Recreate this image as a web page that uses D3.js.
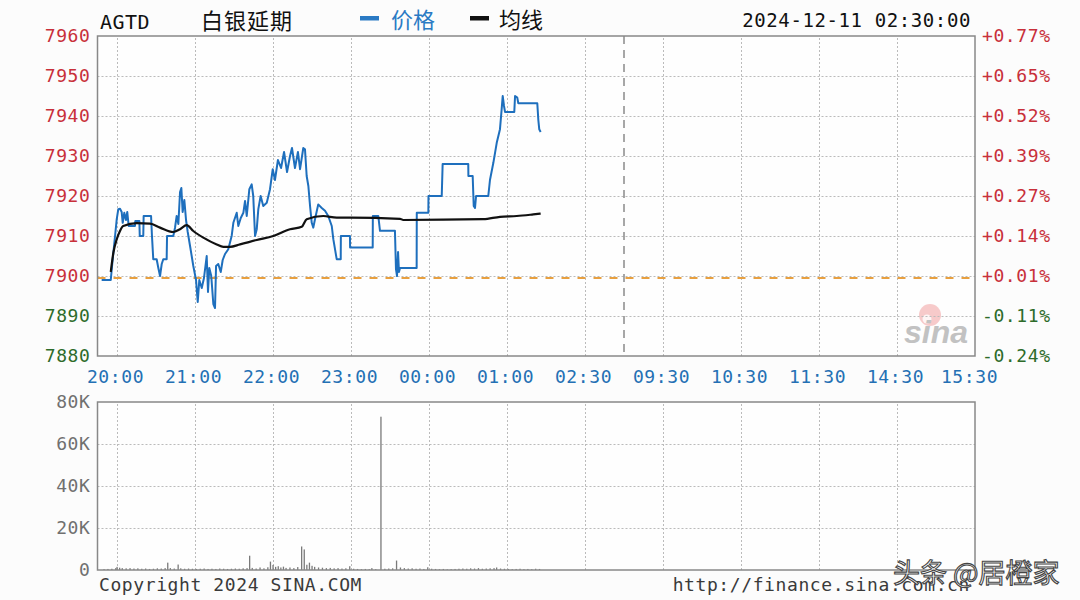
<!DOCTYPE html>
<html><head><meta charset="utf-8">
<script src="https://cdn.jsdelivr.net/npm/d3@7"></script>
<style>
body{margin:0;background:#fcfcfc;}
svg{display:block;}
</style></head><body>
<svg id="c" width="1080" height="600"></svg>
<script>
// ---------- data ----------
const symbol = "AGTD";
const title = "白银延期";
const stamp = "2024-12-11 02:30:00";
const seriesNames = ["价格", "均线"];
const prevClose = 7899.5;
const priceTicks = [7960, 7950, 7940, 7930, 7920, 7910, 7900, 7890, 7880];
const pctLabels = ["+0.77%", "+0.65%", "+0.52%", "+0.39%", "+0.27%", "+0.14%", "+0.01%", "-0.11%", "-0.24%"];
const timeTickMinutes = [0, 60, 120, 180, 240, 300, 360, 420, 480, 540, 600, 660];
const timeLabels = ["20:00", "21:00", "22:00", "23:00", "00:00", "01:00", "02:30", "09:30", "10:30", "11:30", "14:30", "15:30"];
const sessionBreak = 390;
const volTicks = [0, 20000, 40000, 60000, 80000];
const volLabels = ["0", "20K", "40K", "60K", "80K"];
const footerLeft = "Copyright 2024 SINA.COM";
const footerRight = "http://finance.sina.com.cn";
const watermark = "头条 @居橙家";

// minutes after 20:00, price
const priceData = [
[-11.8,7899],[-4.8,7899],[-3.8,7902.5],[-2.8,7905.8],[-1.5,7910],[-0.2,7914.2],[1.0,7916.7],[2.3,7916.8],[3.6,7916],
[4.4,7913.3],[5.6,7915.8],[6.9,7914],[7.9,7916],[9.0,7912.5],[13.8,7912.5],[14.1,7913.75],[17.2,7913.75],[17.5,7910],
[20.2,7910],[20.5,7915],[26.2,7915],[26.9,7910],[27.9,7904.2],[30.5,7904.2],[31.8,7902],[33.1,7900],[34.4,7903],
[35.6,7904.2],[38.2,7904.2],[38.5,7910],[43.3,7910],[44.6,7912],[45.9,7915],[47.2,7913],[48.5,7921],[49.5,7922],
[50.5,7916],[51.8,7919],[53.1,7914],[54.4,7911],[56.2,7907.5],[58.7,7902.5],[60.8,7899],[62.1,7893.5],[63.3,7899],
[65.2,7897],[66.9,7899.5],[69.0,7905],[70.0,7896],[71.0,7902],[72.5,7900],[74.1,7893],[75.4,7892],[76.2,7902.5],
[77.9,7903],[79.8,7901],[81.3,7904],[83.1,7905.5],[85.6,7906.7],[88.2,7910],[89.5,7913.3],[92.1,7915.8],[93.3,7912.5],
[95.2,7914.5],[97.2,7915.8],[98.5,7918.75],[99.8,7915],[101.8,7921.7],[103.6,7922.9],[104.8,7920],[106.2,7910],
[107.5,7911.7],[108.7,7916.7],[110.5,7920],[112.5,7917.5],[115.2,7918.3],[117.7,7921.7],[119.8,7926.7],[121.5,7924],
[123.8,7929],[126.2,7927],[128.5,7931],[130.8,7926],[133.1,7930],[134.6,7932],[136.9,7927],[139.2,7931],[140.8,7926.7],
[143.3,7932],[144.6,7931.7],[145.9,7925],[147.2,7922.5],[148.5,7917.5],[149.8,7913.3],[151.0,7912.1],[152.3,7914.2],
[154.8,7917.9],[157.5,7917],[160,7916.3],[162.5,7915],[165.2,7912.5],[166.4,7909.2],[169,7904.2],[172.1,7904.2],
[172.2,7910],[179.2,7910],[179.3,7907.1],[196.7,7907.1],[196.8,7915],[201,7915],[202.3,7911.3],[213.8,7911.3],
[214.6,7901.7],[215.4,7900],[216.2,7906],[216.9,7901],[217.7,7902],[230.5,7902],[230.6,7915.8],[239.5,7915.8],
[239.6,7920],[249.8,7920],[250.5,7928],[270.2,7928],[270.3,7925],[273.6,7925],[274.4,7917.5],[275.4,7917],[276.2,7920],
[285.6,7920],[286.9,7924],[289.5,7928.3],[292.1,7933.3],[294.6,7936.7],[295.9,7941.7],[296.7,7945],[297.7,7942.5],
[298.5,7941],[305.6,7941],[306.2,7945],[307.9,7944.6],[308.7,7943.2],[323.3,7943.2],[324.1,7939],[324.8,7936.7],[325.9,7936]
];

const avgData = [
[-4.8,7901],[-2.8,7905.8],[-0.2,7909.2],[2.3,7911.25],[4.8,7912.5],[15.2,7913.2],[25.4,7913.1],[33.1,7912.1],
[43.3,7911],[48.5,7911.7],[53.6,7912.7],[58.7,7911.25],[66.4,7909.6],[76.7,7907.9],[81.8,7907.3],[86.9,7907.3],
[94.6,7907.9],[107.5,7909],[120.2,7910],[133.1,7911.7],[142.1,7912.3],[145.9,7914.2],[158.7,7915],[169,7914.6],
[179.2,7914.6],[217.7,7914.3],[220.2,7914],[281.8,7914.2],[294.6,7914.8],[307.5,7915],[320.2,7915.4],[325.9,7915.6]
];

const volData = [
[-10,400],[-7,500],[-4,600],[-1,900],[0,1500],[2,1100],[4,900],[7,800],[10,900],[13,700],[16,800],[19,600],[22,700],
[25,500],[28,600],[31,800],[34,700],[37,900],[39,3500],[41,900],[44,700],[47,2600],[49,800],[52,600],[55,700],[58,600],
[61,500],[64,600],[67,700],[70,500],[73,600],[76,500],[79,700],[82,600],[85,500],[88,600],[91,700],[94,600],[97,800],
[100,900],[102,6800],[104,1000],[107,700],[110,1200],[113,800],[116,1300],[118,4000],[120,2400],[122,1500],[124,1800],
[126,1200],[128,1600],[130,1000],[133,1200],[136,900],[139,1400],[142,11200],[144,9800],[146,2500],[148,3500],[150,2000],
[152,1500],[155,1200],[158,1100],[161,900],[164,1000],[167,800],[170,900],[173,700],[176,800],[179,1800],[182,600],
[185,500],[188,400],[191,500],[194,400],[196,900],[199,400],[203,73000],[206,600],[209,700],[212,800],[215,4500],
[218,1200],[221,900],[224,700],[227,800],[230,600],[233,700],[236,500],[239,1300],[242,600],[245,500],[248,400],
[251,500],[254,300],[257,400],[260,500],[263,600],[266,700],[269,600],[272,800],[275,700],[278,900],[281,600],[284,700],
[287,800],[290,900],[292,1200],[295,700],[298,600],[301,500],[304,400],[307,500],[310,600],[313,400],[316,500],
[319,400],[322,600],[325,500]
];

// ---------- layout ----------
const L = 97.5, R = 975;
const pTop = 36, pBot = 356;
const vTop = 402, vBot = 570;
const MONO = '"DejaVu Sans Mono", "Liberation Mono", monospace';
const CJK = '"Noto Sans CJK SC", "Noto Sans", sans-serif';
const RED = "#c8303a", GREEN = "#2e6b2a", BLUE = "#2470b4", GRAY = "#888";

const svg = d3.select("#c");
svg.append("rect").attr("width",1080).attr("height",600).attr("fill","#fcfcfc");

const x = d3.scaleLinear().domain([-15, 660]).range([L, R]);
const yP = d3.scaleLinear().domain([7880, 7960]).range([pBot, pTop]);
const yV = d3.scaleLinear().domain([0, 80000]).range([vBot, vTop]);

// panels background
svg.append("rect").attr("x",L).attr("y",pTop).attr("width",R-L).attr("height",pBot-pTop).attr("fill","#fefefe");
svg.append("rect").attr("x",L).attr("y",vTop).attr("width",R-L).attr("height",vBot-vTop).attr("fill","#fefefe");

// sina logo watermark
const logo = svg.append("g");
logo.append("circle").attr("cx",930).attr("cy",315).attr("r",11).attr("fill","#f3b3b3").attr("opacity",0.7);
logo.append("circle").attr("cx",927).attr("cy",319).attr("r",4.5).attr("fill","#fff").attr("opacity",0.8);
logo.append("text").attr("x",904).attr("y",343).attr("font-family",'"Liberation Sans", Arial, sans-serif')
  .attr("font-size",32).attr("font-style","italic").attr("font-weight","bold").attr("fill","#c2c2c2").text("sina");

// grids
function vgrid(top, bot){
  const g = svg.append("g").attr("transform",`translate(0,${bot})`)
    .call(d3.axisBottom(x).tickValues(timeTickMinutes.filter(d=>d<660)).tickSize(-(bot-top)).tickFormat(""));
  g.select(".domain").remove();
  g.selectAll(".tick line").attr("stroke","#bbb").attr("stroke-dasharray","2,2").attr("stroke-width",1);
}
function hgrid(scale, ticks, left){
  const g = svg.append("g").attr("transform",`translate(${left},0)`)
    .call(d3.axisLeft(scale).tickValues(ticks).tickSize(-(R-L)).tickFormat(""));
  g.select(".domain").remove();
  g.selectAll(".tick line").attr("stroke","#bbb").attr("stroke-dasharray","2,2").attr("stroke-width",1);
}
vgrid(pTop, pBot);
hgrid(yP, priceTicks.slice(1,-1), L);
vgrid(vTop, vBot);
hgrid(yV, volTicks.slice(1,-1), L);

// session break dashed line
svg.append("line").attr("x1",x(sessionBreak)).attr("x2",x(sessionBreak)).attr("y1",pTop).attr("y2",pBot)
  .attr("stroke","#8a8a8a").attr("stroke-width",1.5).attr("stroke-dasharray","8,6");

// previous close line
svg.append("line").attr("x1",L).attr("x2",R).attr("y1",yP(prevClose)).attr("y2",yP(prevClose))
  .attr("stroke","#e8a040").attr("stroke-width",2).attr("stroke-dasharray","8,8");

// price and average lines
const line = d3.line().x(d=>x(d[0])).y(d=>yP(d[1]));
svg.append("path").datum(priceData).attr("d",line).attr("fill","none").attr("stroke","#1e6fbd").attr("stroke-width",2).attr("stroke-linejoin","round");
svg.append("path").datum(avgData).attr("d",line.curve(d3.curveMonotoneX)).attr("fill","none").attr("stroke","#111").attr("stroke-width",2.2);

// volume bars
svg.append("g").selectAll("rect").data(volData).join("rect")
  .attr("x",d=>x(d[0])-0.6).attr("width",1.3)
  .attr("y",d=>yV(d[1])).attr("height",d=>vBot-yV(d[1]))
  .attr("fill","#7a7a7a");

// borders
svg.append("rect").attr("x",L).attr("y",pTop).attr("width",R-L).attr("height",pBot-pTop).attr("fill","none").attr("stroke",GRAY).attr("stroke-width",1.5);
svg.append("rect").attr("x",L).attr("y",vTop).attr("width",R-L).attr("height",vBot-vTop).attr("fill","none").attr("stroke",GRAY).attr("stroke-width",1.5);

// axes labels
function styleText(g){ g.select(".domain").remove(); g.selectAll(".tick line").remove();
  g.selectAll("text").attr("font-family",MONO).attr("font-size",18).attr("letter-spacing",0.6); }
const axL = svg.append("g").attr("transform",`translate(${L-4},0)`)
  .call(d3.axisLeft(yP).tickValues(priceTicks).tickSize(0).tickFormat(d3.format("d")));
styleText(axL);
axL.selectAll("text").attr("fill",d=> d>prevClose ? RED : GREEN);

const axR = svg.append("g").attr("transform",`translate(${R+4},0)`)
  .call(d3.axisRight(yP).tickValues(priceTicks).tickSize(0).tickFormat((d,i)=>pctLabels[i]));
styleText(axR);
axR.selectAll("text").attr("fill",d=> d>prevClose ? RED : GREEN);

const axB = svg.append("g").attr("transform",`translate(0,${pBot+11})`)
  .call(d3.axisBottom(x).tickValues(timeTickMinutes).tickSize(0).tickFormat((d,i)=>timeLabels[i]));
styleText(axB);
axB.selectAll("text").attr("fill",BLUE).attr("dx",(d,i)=> i===timeLabels.length-1 ? -6 : -2);

const axV = svg.append("g").attr("transform",`translate(${L-4},0)`)
  .call(d3.axisLeft(yV).tickValues(volTicks).tickSize(0).tickFormat((d,i)=>volLabels[i]));
styleText(axV);
axV.selectAll("text").attr("fill","#707070");

// header
svg.append("text").attr("x",100).attr("y",29).attr("font-family",MONO).attr("font-size",20).attr("letter-spacing",0.5).attr("fill","#111").text(symbol);
svg.append("text").attr("x",201).attr("y",29).attr("font-family",CJK).attr("font-size",22).attr("letter-spacing",1).attr("fill","#111").text(title);
svg.append("rect").attr("x",360).attr("y",16).attr("width",19).attr("height",4.5).attr("fill","#2a7ac4");
svg.append("text").attr("x",391).attr("y",28).attr("font-family",CJK).attr("font-size",22).attr("fill","#2a7ac4").text(seriesNames[0]);
svg.append("rect").attr("x",470).attr("y",16).attr("width",19).attr("height",4.5).attr("fill","#111");
svg.append("text").attr("x",499).attr("y",28).attr("font-family",CJK).attr("font-size",22).attr("fill","#111").text(seriesNames[1]);
svg.append("text").attr("x",971).attr("y",27).attr("text-anchor","end").attr("font-family",MONO).attr("font-size",19).attr("letter-spacing",0.6).attr("fill","#111").text(stamp);

// footer
svg.append("text").attr("x",99).attr("y",591).attr("font-family",MONO).attr("font-size",18).attr("letter-spacing",0.6).attr("fill","#3a3a3a").text(footerLeft);
svg.append("text").attr("x",970).attr("y",591).attr("text-anchor","end").attr("font-family",MONO).attr("font-size",18).attr("letter-spacing",0.6).attr("fill","#3a3a3a").text(footerRight);

// platform watermark
svg.append("text").attr("x",893).attr("y",583).attr("font-family",CJK).attr("font-size",27)
  .attr("fill","#fff").attr("stroke","#444").attr("stroke-width",1.1).text(watermark);
</script>
</body></html>
